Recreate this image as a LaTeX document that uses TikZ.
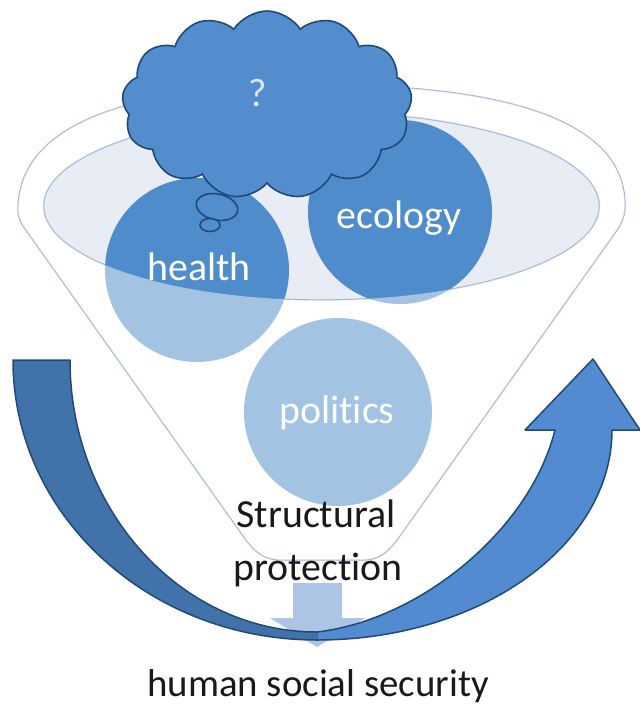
\documentclass[tikz,border=0pt]{standalone}
\usepackage{fontspec}
\setmainfont{Carlito}[Ligatures=NoCommon]
\usetikzlibrary{shapes.symbols}
\definecolor{rimline}{HTML}{97AECB}
\definecolor{rimfill}{HTML}{E8EDF5}
\definecolor{ballblue}{HTML}{4F8CCB}
\definecolor{cloudblue}{HTML}{548DCE}
\definecolor{navy}{HTML}{1F4A78}
\definecolor{backblue}{HTML}{4272AA}
\definecolor{frontblue}{HTML}{528BCF}
\definecolor{downblue}{HTML}{ADC4E4}
\definecolor{qcol}{HTML}{DCE6F3}
\def\funnelpath{(18,210) .. controls (18,115) and (152,85) .. (321,85)
  .. controls (490,85) and (625,115) .. (625,205)
  .. controls (625,222) and (618,228) .. (610,240) -- (397,540)
  .. controls (387,553) and (378,560) .. (362,560) -- (281,560)
  .. controls (265,560) and (256,553) .. (246,540) -- (33,240)
  .. controls (25,228) and (18,222) .. (18,210) -- cycle}
\def\uarrowpath{(13,360) -- (70,360) .. controls (70,510) and (181,632) .. (317,632)
  .. controls (420,620) and (530,530) .. (555,430) -- (525,430) -- (593,359)
  -- (640,430) -- (612,430) .. controls (612,546) and (480,640) .. (317,640)
  .. controls (149,640) and (13,515) .. (13,360) -- cycle}
\tikzset{
  ball/.style={circle, fill=ballblue, inner sep=0pt, minimum size=#1},
  balltext/.style={anchor=base, text=white, inner sep=0pt, font=\fontsize{40}{48}\selectfont},
  blacktext/.style={anchor=base, text=black!90, inner sep=0pt, font=\fontsize{40}{48}\selectfont},
}
\begin{document}
\begin{tikzpicture}[x=1bp,y=-1bp]
\useasboundingbox (0,0) rectangle (640,718);
% down arrow
\fill[downblue] (293,583) -- (342,583) -- (342,618) -- (365,618) -- (317,647) -- (270,618) -- (293,618) -- cycle;
% inner ellipse of funnel top
\filldraw[fill=rimfill, draw=rimline, line width=1.3bp] (321.5,206) ellipse [x radius=278bp, y radius=94bp];
% funnel outline
\draw[rimline, line width=1.3bp] \funnelpath;
% balls
\node[ball=184bp] (health) at (197,270) {};
\node[ball=184bp] (ecology) at (400,212) {};
\node[ball=188bp] (politics) at (338,412) {};
% translucent funnel body
\fill[white, opacity=0.48, even odd rule] \funnelpath (321.5,206) ellipse [x radius=278bp, y radius=94bp];
\node[balltext] (healthtxt) at (199,280) {health};
\node[balltext] (ecologytxt) at (399,228) {ecology};
\node[balltext] (politicstxt) at (337,423) {politics};
% thought cloud
\node[cloud, cloud puffs=13, cloud puff arc=115, aspect=1.55, fill=cloudblue, draw=navy, line width=1.6bp,
      minimum width=290bp, minimum height=188bp, inner sep=0pt] (thought) at (267,105) {};
\filldraw[fill=cloudblue, draw=navy, line width=1.6bp, rotate around={-12:(217,207)}] (217,207) ellipse [x radius=21bp, y radius=13bp];
\filldraw[fill=cloudblue, draw=navy, line width=1.6bp] (210,225) ellipse [x radius=10bp, y radius=6.5bp];
\node[anchor=base, text=qcol, inner sep=0pt, font=\fontsize{40}{48}\selectfont] (qmark) at (258,107) {?};
% curved up arrow
\fill[frontblue] \uarrowpath;
\begin{scope}
\clip (0,0) rectangle (318,718);
\fill[backblue] \uarrowpath;
\end{scope}
\draw[navy, line width=1.5bp, line join=round] \uarrowpath;
% texts
\node[blacktext] (struct) at (316,527) {Structural};
\node[blacktext] (prot) at (318,580) {protection};
\node[anchor=base, text=black!90, inner sep=0pt, font=\fontsize{39}{47}\selectfont] (hss) at (318,696) {human social security};
\end{tikzpicture}
\end{document}
